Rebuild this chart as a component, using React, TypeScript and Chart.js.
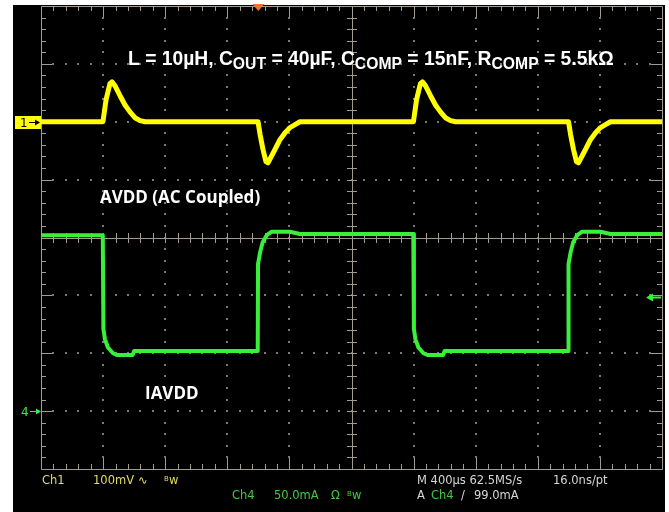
import React, { useEffect, useRef } from "react";
import { Chart, registerables } from "chart.js";

Chart.register(...registerables);

// ---- Data (time in µs, Ch1 in mV, Ch4 in mA) ----
const ch1TimeUs = [
  0, 399, 419, 444, 457, 477, 509, 541, 573, 605, 638, 670,
  1398, 1411, 1430, 1449, 1462, 1507, 1539, 1572, 1604, 1636, 1668,
  2399, 2419, 2444, 2457, 2477, 2509, 2541, 2573, 2605, 2638, 2670,
  3398, 3411, 3430, 3449, 3462, 3507, 3539, 3572, 3604, 3636, 3668, 4000,
];
const ch1mV = [
  0, 0, 38, 66, 69, 62, 45, 29, 17, 7, 2, 0,
  0, -22, -48, -69, -71, -48, -31, -19, -10, -5, 0,
  0, 38, 66, 69, 62, 45, 29, 17, 7, 2, 0,
  0, -22, -48, -69, -71, -48, -31, -19, -10, -5, 0, 0,
];
const ch4TimeUs = [
  0, 398, 402, 412, 431, 464, 489, 590, 600,
  1396, 1398, 1411, 1428, 1454, 1486, 1604, 1668,
  2398, 2402, 2412, 2431, 2464, 2489, 2590, 2600,
  3396, 3398, 3411, 3428, 3454, 3486, 3604, 3668, 4000,
];
const ch4mA = [
  152, 152, 71, 62, 55, 50, 48.5, 48.5, 52,
  52, 127, 137, 146, 152, 155, 155, 153,
  153, 71, 62, 55, 50, 48.5, 48.5, 52,
  52, 127, 137, 146, 152, 155, 155, 153, 153,
];

const triggerTimeUs = 1400;
const triggerLevelmA = 99;

const titleParts: [string, boolean][] = [
  ["L = 10µH, C", false],
  ["OUT", true],
  [" = 40µF, C", false],
  ["COMP", true],
  [" = 15nF, R", false],
  ["COMP", true],
  [" = 5.5kΩ", false],
];
const label1 = "AVDD (AC Coupled)";
const label4 = "IAVDD";
const ch1Status = ["Ch1", "100mV", "∿", "Bw"];
const ch4Status = ["Ch4", "50.0mA", "Ω", "Bw"];
const timeStatus = ["M 400µs 62.5MS/s", "16.0ns/pt"];
const trigStatus = ["A", "Ch4", "/", "99.0mA"];

const YEL = "#ffff00";
const GRN = "#38f038";
const GRID = "#a39c8e";

function arrow(
  ctx: CanvasRenderingContext2D,
  x1: number,
  x2: number,
  y: number,
  color: string,
  w: number,
  head = 5,
  half = 3
) {
  ctx.strokeStyle = color;
  ctx.fillStyle = color;
  ctx.lineWidth = w;
  const dir = Math.sign(x2 - x1);
  ctx.beginPath();
  ctx.moveTo(x1, y);
  ctx.lineTo(x2 - dir * (head - 1), y);
  ctx.stroke();
  ctx.beginPath();
  ctx.moveTo(x2, y);
  ctx.lineTo(x2 - dir * head, y - half);
  ctx.lineTo(x2 - dir * head, y + half);
  ctx.closePath();
  ctx.fill();
}

const scopePlugin = {
  id: "scope",
  beforeDraw(chart: any) {
    const ctx: CanvasRenderingContext2D = chart.ctx;
    const { left, right, top, bottom } = chart.chartArea;
    ctx.save();
    ctx.fillStyle = "#ffffff";
    ctx.fillRect(0, 0, chart.width, chart.height);
    ctx.fillStyle = "#000000";
    ctx.fillRect(13, 5, 652, chart.height - 5);

    const dx = (right - left) / 10;
    const dy = (bottom - top) / 8;
    const cx = left + 5 * dx;
    const cy = top + 4 * dy;
    // dotted graticule
    ctx.fillStyle = "#7a7a7a";
    for (let i = 1; i < 10; i++) {
      if (i === 5) continue;
      const x = Math.round(left + i * dx);
      for (let j = 1; j < 40; j++) {
        const y = Math.round(top + (j * dy) / 5);
        ctx.fillRect(x - 1, y - 1, 2, 2);
      }
    }
    for (let k = 1; k < 8; k++) {
      if (k === 4) continue;
      const y = Math.round(top + k * dy);
      for (let j = 1; j < 50; j++) {
        const x = Math.round(left + (j * dx) / 5);
        ctx.fillRect(x - 1, y - 1, 2, 2);
      }
    }
    // solid border + center cross
    ctx.strokeStyle = GRID;
    ctx.lineWidth = 1;
    const px = (v: number) => Math.round(v) + 0.5;
    ctx.beginPath();
    ctx.rect(px(left), px(top), Math.round(right - left), Math.round(bottom - top));
    ctx.moveTo(px(cx), top);
    ctx.lineTo(px(cx), bottom);
    ctx.moveTo(left, px(cy));
    ctx.lineTo(right, px(cy));
    for (let j = 1; j < 50; j++) {
      const x = px(left + (j * dx) / 5);
      const major = j % 5 === 0;
      const L = major ? 11 : 5;
      ctx.moveTo(x, top);
      ctx.lineTo(x, top + L);
      ctx.moveTo(x, bottom);
      ctx.lineTo(x, bottom - L);
      ctx.moveTo(x, cy - 4.5);
      ctx.lineTo(x, cy + 5.5);
    }
    for (let j = 1; j < 40; j++) {
      const y = px(top + (j * dy) / 5);
      const major = j % 5 === 0;
      const L = major ? 11 : 5;
      ctx.moveTo(left, y);
      ctx.lineTo(left + L, y);
      ctx.moveTo(right, y);
      ctx.lineTo(right - L, y);
      ctx.moveTo(cx - 4.5, y);
      ctx.lineTo(cx + 5.5, y);
    }
    ctx.stroke();
    ctx.restore();
  },
  afterDraw(chart: any) {
    const ctx: CanvasRenderingContext2D = chart.ctx;
    const { top } = chart.chartArea;
    const xs = chart.scales.x;
    const y1 = chart.scales.y1;
    const y4 = chart.scales.y4;
    ctx.save();
    ctx.textBaseline = "alphabetic";
    ctx.textAlign = "left";

    // title with subscripts, fitted to width
    const mainF = (s: number) => `bold ${s}px "Liberation Sans", Arial, sans-serif`;
    let total = 0;
    for (const [t, sub] of titleParts) {
      ctx.font = mainF(sub ? 15.5 : 19);
      total += ctx.measureText(t).width;
    }
    const k = 486 / total;
    let tx = 128;
    ctx.fillStyle = "#ffffff";
    for (const [t, sub] of titleParts) {
      ctx.font = mainF((sub ? 15.5 : 19) * k);
      ctx.fillText(t, tx, sub ? 69 : 65);
      tx += ctx.measureText(t).width;
    }

    ctx.font = `bold 17px "Open Sans", sans-serif`;
    ctx.fillText(label1, 100, 203);
    ctx.fillText(label4, 145, 399);

    // channel markers
    const g1 = Math.round(y1.getPixelForValue(0));
    ctx.fillStyle = YEL;
    ctx.fillRect(15, g1 - 6, 26, 13);
    ctx.fillStyle = "#000";
    ctx.font = `12px "DejaVu Sans", sans-serif`;
    ctx.fillText("1", 20, g1 + 5);
    arrow(ctx, 29, 40, g1 + 0.5, "#000", 1);

    const g4 = Math.round(y4.getPixelForValue(0));
    ctx.fillStyle = GRN;
    ctx.fillText("4", 21, g4 + 5);
    arrow(ctx, 30, 41, g4 + 0.5, GRN, 1);

    const tl = Math.round(y4.getPixelForValue(triggerLevelmA));
    arrow(ctx, 661, 646, tl + 0.5, GRN, 2, 7, 4);

    const tp = xs.getPixelForValue(triggerTimeUs);
    ctx.fillStyle = "#f07030";
    ctx.beginPath();
    ctx.moveTo(tp - 6, top - 2);
    ctx.lineTo(tp + 6, top - 2);
    ctx.lineTo(tp, top + 5);
    ctx.closePath();
    ctx.fill();

    // status bar
    const small = `11.5px "DejaVu Sans", sans-serif`;
    const tiny = `7px "DejaVu Sans", sans-serif`;
    const r1 = 484;
    const r2 = 499;
    const CY = "#dede5a";
    const CG = "#40cc40";
    const CW = "#d6d6d6";
    const bw = (x: number, y: number, c: string) => {
      ctx.fillStyle = c;
      ctx.font = tiny;
      ctx.fillText("B", x, y - 3);
      ctx.font = small;
      ctx.fillText("w", x + 5, y);
    };
    ctx.font = small;
    ctx.fillStyle = CY;
    ctx.fillText(ch1Status[0], 42, r1);
    ctx.fillText(ch1Status[1], 93, r1);
    ctx.fillText(ch1Status[2], 138, r1);
    bw(164, r1, CY);
    ctx.font = small;
    ctx.fillStyle = CG;
    ctx.fillText(ch4Status[0], 232, r2);
    ctx.fillText(ch4Status[1], 274, r2);
    ctx.fillText(ch4Status[2], 331, r2);
    bw(347, r2, CG);
    ctx.font = small;
    ctx.fillStyle = CW;
    ctx.fillText(timeStatus[0], 417, r1);
    ctx.fillText(timeStatus[1], 553, r1);
    ctx.fillText(trigStatus[0], 417, r2);
    ctx.fillStyle = CG;
    ctx.fillText(trigStatus[1], 431, r2);
    ctx.fillStyle = CW;
    ctx.fillText(trigStatus[2], 461, r2);
    ctx.fillText(trigStatus[3], 474, r2);
    ctx.restore();
  },
};

export default function App() {
  const ref = useRef<HTMLCanvasElement | null>(null);
  useEffect(() => {
    document.body.style.margin = "0";
    const canvas = ref.current;
    if (!canvas) return;
    const chart = new Chart(canvas, {
      type: "line",
      data: {
        datasets: [
          {
            data: ch1TimeUs.map((t, i) => ({ x: t, y: ch1mV[i] })),
            borderColor: YEL,
            borderWidth: 5,
            yAxisID: "y1",
            pointRadius: 0,
            tension: 0,
            borderJoinStyle: "round",
          },
          {
            data: ch4TimeUs.map((t, i) => ({ x: t, y: ch4mA[i] })),
            borderColor: GRN,
            borderWidth: 4,
            yAxisID: "y4",
            pointRadius: 0,
            tension: 0,
            borderJoinStyle: "round",
          },
        ],
      },
      options: {
        responsive: false,
        animation: false,
        devicePixelRatio: 1,
        layout: { padding: { left: 41, right: 7, top: 6, bottom: 43 } },
        plugins: {
          legend: { display: false },
          tooltip: { enabled: false },
          title: { display: false },
        },
        scales: {
          x: { type: "linear", min: 0, max: 4000, display: false },
          y1: { type: "linear", min: -600, max: 200, display: false },
          y4: { type: "linear", min: -50, max: 350, display: false },
        },
      },
      plugins: [scopePlugin],
    } as any);
    return () => chart.destroy();
  }, []);
  return (
    <div style={{ width: 669, height: 512 }}>
      <canvas ref={ref} width={669} height={512} style={{ display: "block" }} />
    </div>
  );
}
